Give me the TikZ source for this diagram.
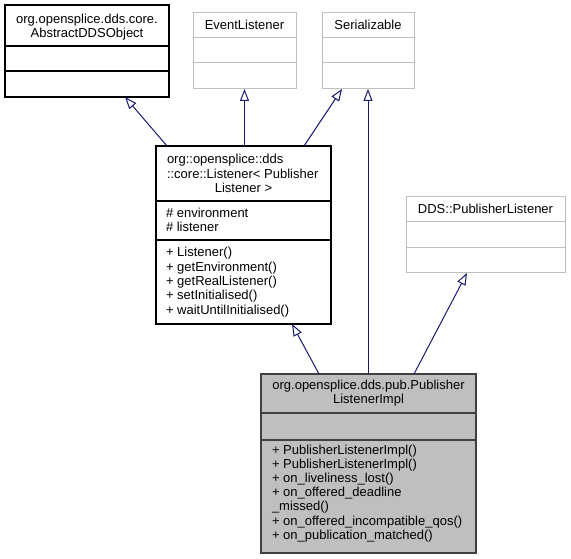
\documentclass[tikz,border=0pt]{standalone}
\usepackage{fontspec}
\setmainfont{Liberation Sans}
\usetikzlibrary{arrows.meta,calc}
\definecolor{edgeblue}{HTML}{191970}
\definecolor{lightgrey}{HTML}{BFBFBF}
\definecolor{darkgrey}{HTML}{404040}
\begin{document}
\begin{tikzpicture}[x=1pt,y=-1pt,
  classbox/.style={draw=black, line width=1.2pt, inner sep=0pt, outer sep=0pt, anchor=north west},
  greybox/.style={classbox, draw=lightgrey, line width=1pt},
  implbox/.style={classbox, draw=darkgrey, fill=lightgrey, line width=1.2pt},
  blackline/.style={draw=black, line width=1.2pt},
  greyline/.style={draw=lightgrey, line width=1pt},
  darkline/.style={draw=darkgrey, line width=1.2pt},
  txt/.style={inner sep=0pt, outer sep=0pt, font=\fontsize{13}{15}\selectfont},
  inh/.style={draw=edgeblue, line width=1pt, -{Triangle[open, length=12pt, width=9pt]}}]
\useasboundingbox (0,0) rectangle (571,559);

% ---- boxes ----
\node[classbox, minimum width=164pt, minimum height=92pt] (A) at (5,5) {};
\draw[blackline] ($(A.north west)+(0,41)$) -- ($(A.north east)+(0,41)$);
\draw[blackline] ($(A.north west)+(0,66)$) -- ($(A.north east)+(0,66)$);

\node[greybox, minimum width=103pt, minimum height=76pt] (E) at (193,13) {};
\draw[greyline] ($(E.north west)+(0,25)$) -- ($(E.north east)+(0,25)$);
\draw[greyline] ($(E.north west)+(0,50)$) -- ($(E.north east)+(0,50)$);

\node[greybox, minimum width=92pt, minimum height=76pt] (S) at (322,13) {};
\draw[greyline] ($(S.north west)+(0,25)$) -- ($(S.north east)+(0,25)$);
\draw[greyline] ($(S.north west)+(0,50)$) -- ($(S.north east)+(0,50)$);

\node[classbox, minimum width=175pt, minimum height=178pt] (L) at (156,146) {};
\draw[blackline] ($(L.north west)+(0,55)$) -- ($(L.north east)+(0,55)$);
\draw[blackline] ($(L.north west)+(0,94)$) -- ($(L.north east)+(0,94)$);

\node[greybox, minimum width=159pt, minimum height=76pt] (D) at (406,197) {};
\draw[greyline] ($(D.north west)+(0,25)$) -- ($(D.north east)+(0,25)$);
\draw[greyline] ($(D.north west)+(0,51)$) -- ($(D.north east)+(0,51)$);

\node[implbox, minimum width=215pt, minimum height=179pt] (I) at (261,374) {};
\draw[darkline] ($(I.north west)+(0,39)$) -- ($(I.north east)+(0,39)$);
\draw[darkline] ($(I.north west)+(0,66)$) -- ($(I.north east)+(0,66)$);

% ---- texts ----
\node[txt, anchor=base] (At1) at (87,23.5) {org.opensplice.dds.core.};
\node[txt, anchor=base] (At2) at (87,38) {AbstractDDSObject};
\node[txt, anchor=base] (Et) at (244.5,29.5) {EventListener};
\node[txt, anchor=base] (St) at (368,29.5) {Serializable};
\node[txt, anchor=base] (Dt) at (485.5,213.5) {DDS::PublisherListener};

\node[txt, anchor=base west] (Lt1) at (167,164) {org::opensplice::dds};
\node[txt, anchor=base west] (Lt2) at (167,178.3) {::core::Listener< Publisher};
\node[txt, anchor=base] (Lt3) at (243.5,192.6) {Listener >};
\node[txt, anchor=base west] (La1) at (166,217.5) {\# environment};
\node[txt, anchor=base west] (La2) at (166,231.8) {\# listener};
\foreach \t [count=\i from 0] in {{+ Listener()},{+ getEnvironment()},{+ getRealListener()},{+ setInitialised()},{+ waitUntilInitialised()}}
  \node[txt, anchor=base west] (Lm\i) at (166,257+14.3*\i) {\t};

\node[txt, anchor=base] (It1) at (368.5,389) {org.opensplice.dds.pub.Publisher};
\node[txt, anchor=base] (It2) at (368.5,403) {ListenerImpl};
\foreach \t [count=\i from 0] in {{+ PublisherListenerImpl()},{+ PublisherListenerImpl()},{+ on\_liveliness\_lost()},{+ on\_offered\_deadline},{\_missed()},{+ on\_offered\_incompatible\_qos()},{+ on\_publication\_matched()}}
  \node[txt, anchor=base west] (Im\i) at (272,454+14.2*\i) {\t};

% ---- inheritance connectors ----
\draw[inh] ($(L.north west)+(11,0)$) -- ($(A.south west)+(120,0)$);
\draw[inh] (E.south |- L.north) -- (E.south);
\draw[inh] ($(L.north west)+(148,0)$) -- ($(S.south west)+(20,0)$);
\draw[inh] (S.south |- I.north) -- (S.south);
\draw[inh] ($(I.north west)+(58,0)$) -- ($(L.south west)+(136,0)$);
\draw[inh] ($(I.north west)+(153,0)$) -- ($(D.south west)+(61,0)$);
\end{tikzpicture}
\end{document}
